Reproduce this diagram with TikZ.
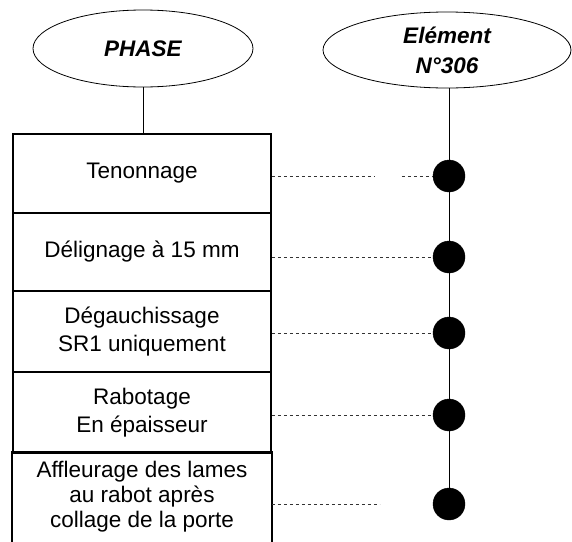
\documentclass[tikz,border=0pt]{standalone}
\usepackage{fontspec}
\setmainfont{Liberation Sans}
\usetikzlibrary{shapes.geometric}
\begin{document}
\begin{tikzpicture}[x=1pt,y=-1pt,
  oval/.style={ellipse,draw,line width=0.8pt,inner sep=0pt,align=center,
    font=\fontsize{22.5}{30}\selectfont\bfseries\itshape},
  stepbox/.style={draw,line width=1.6pt,minimum width=258pt,inner sep=0pt,align=center,
    font=\fontsize{22.5}{28}\selectfont},
  dot/.style={circle,fill=black,draw=black,minimum size=32pt,inner sep=0pt},
  link/.style={line width=1pt},
  dashl/.style={line width=0.7pt,dash pattern=on 3pt off 3pt,black!80}]
\useasboundingbox[fill=white] (0,0) rectangle (572,541);

\node[oval,minimum width=220pt,minimum height=77pt] (phase) at (143,48.5) {PHASE};
\node[oval,minimum width=248pt,minimum height=76pt] (elem) at (447,50) {Elément\\N°306};

\node[stepbox,minimum height=79pt] (b1) at (142,173.5) {Tenonnage};
\node[stepbox,minimum height=78pt] (b2) at (142,252) {Délignage à 15 mm};
\node[stepbox,minimum height=81pt] (b3) at (142,331.5) {Dégauchissage\\SR1 uniquement};
\node[stepbox,minimum height=81pt] (b4) at (142,412.5) {Rabotage\\En épaisseur};
\node[stepbox,draw=none,minimum height=88pt,font=\fontsize{22.5}{25}\selectfont] (b5) at (142,497)
  {Affleurage des lames\\au rabot après\\collage de la porte};
\draw[line width=1.6pt] (b5.south west) -- (b5.north west) -- (b5.north east) -- (b5.south east);

\node[dot] (d1) at (449,176) {};
\node[dot] (d2) at (449,257) {};
\node[dot] (d3) at (449,333) {};
\node[dot] (d4) at (449,415) {};
\node[dot] (d5) at (449,504) {};

\draw[link] (phase.south) -- (phase.south |- b1.north);
\draw[link] (elem.south -| d1) -- (d1) -- (d2) -- (d3) -- (d4) -- (d5);

\draw[dashl] (b1.east |- d1) -- ++(103,0);
\draw[dashl] ([xshift=-31pt]d1.west) -- (d1.west);
\draw[dashl] (b2.east |- d2) -- (d2.west);
\draw[dashl] (b3.east |- d3) -- (d3.west);
\draw[dashl] (b4.east |- d4) -- (d4.west);
\draw[dashl] (b5.east |- d5) -- ++(108,0);
\end{tikzpicture}
\end{document}
